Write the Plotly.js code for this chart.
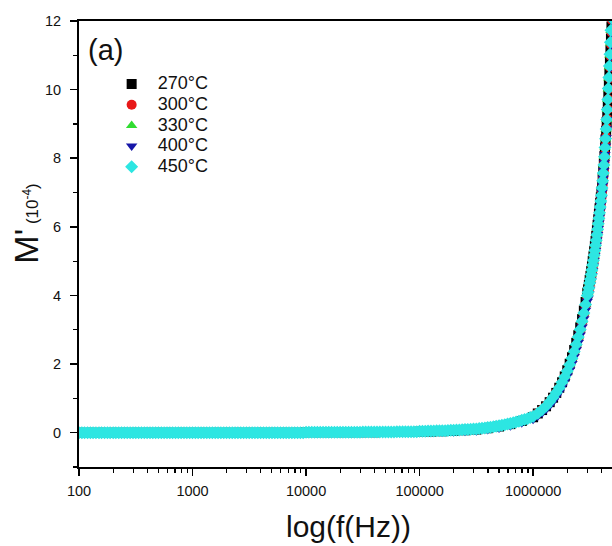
<!DOCTYPE html>
<html>
<head>
<meta charset="utf-8">
<script src="https://cdn.plot.ly/plotly-3.0.1.min.js"></script>
<style>
  html, body { margin: 0; padding: 0; background: #fff; overflow: hidden; }
  #chart { width: 612px; height: 546px; }
</style>
</head>
<body>
<div id="chart"></div>
<script>
// ---- data ----
const seriesNames = ['270°C', '300°C', '330°C', '400°C', '450°C'];
const seriesColors = ['#000000', '#e81818', '#30dc30', '#1616a8', '#2de6e2'];
const seriesSymbols = ['square', 'circle', 'triangle-up', 'triangle-down', 'diamond'];

// frequency grid of the 270-400 °C runs (Hz)
const freqHz = [
  100, 126, 158, 200, 251, 316, 398, 501, 631, 794,
  1000, 1259, 1585, 1995, 2512, 3162, 3981, 5012, 6310, 7943,
  10000, 12589, 15849, 19953, 25119, 31623, 39811, 50119, 63096, 79433,
  100000, 125893, 158489, 199526, 251189, 316228, 398107, 501187, 630957, 794328,
  1000000,
  1100000, 1200000, 1300000, 1400000, 1500000, 1600000, 1700000, 1800000, 1900000, 2000000,
  2100000, 2200000, 2300000, 2400000, 2500000, 2600000, 2700000, 2800000, 2900000, 3000000,
  3050000, 3100000, 3150000, 3200000, 3250000, 3300000, 3350000, 3400000, 3450000, 3500000,
  3550000, 3600000, 3650000, 3700000, 3750000, 3800000, 3850000, 3900000, 3950000, 4000000,
  4050000, 4100000, 4150000, 4200000, 4250000, 4300000, 4350000, 4400000, 4450000, 4500000,
  4550000, 4600000, 4650000, 4700000, 4750000, 4800000, 4850000, 4900000, 4950000, 5000000
];

// denser frequency grid of the 450 °C run (Hz)
const freqHz450 = [
  100, 106, 112, 119, 126, 133, 141, 150, 158, 168, 178, 188, 200, 211, 224, 237, 251, 266, 282, 299,
  316, 335, 355, 376, 398, 422, 447, 473, 501, 531, 562, 596, 631, 668, 708, 750, 794, 841, 891, 944,
  1000, 1059, 1122, 1189, 1259, 1334, 1413, 1496, 1585, 1679, 1778, 1884, 1995, 2113, 2239, 2371, 2512, 2661, 2818, 2985,
  3162, 3350, 3548, 3758, 3981, 4217, 4467, 4732, 5012, 5309, 5623, 5957, 6310, 6683, 7079, 7499, 7943, 8414, 8913, 9441,
  10000, 10593, 11220, 11885, 12589, 13335, 14125, 14962, 15849, 16788, 17783, 18836, 19953, 21135, 22387, 23714, 25119, 26607, 28184, 29854,
  31623, 33497, 35481, 37584, 39811, 42170, 44668, 47315, 50119, 53088, 56234, 59566, 63096, 66834, 70795, 74989, 79433, 84140, 89125, 94406,
  100000, 105930, 112200, 118850, 125890, 133350, 141250, 149620, 158490, 167880, 177830, 188360, 199530, 211350, 223870, 237140, 251190, 266070, 281840, 298540,
  316230, 334970, 354810, 375840, 398110, 421700, 446680, 473150, 501190, 530880, 562340, 595660, 630960, 668340, 707950, 749890, 794330, 841400, 891250, 944060,
  1000000,
  1100000, 1200000, 1300000, 1400000, 1500000, 1600000, 1700000, 1800000, 1900000, 2000000,
  2100000, 2200000, 2300000, 2400000, 2500000, 2600000, 2700000, 2800000, 2900000, 3000000,
  3050000, 3100000, 3150000, 3200000, 3250000, 3300000, 3350000, 3400000, 3450000, 3500000,
  3550000, 3600000, 3650000, 3700000, 3750000, 3800000, 3850000, 3900000, 3950000, 4000000,
  4050000, 4100000, 4150000, 4200000, 4250000, 4300000, 4350000, 4400000, 4450000, 4500000,
  4550000, 4600000, 4650000, 4700000, 4750000, 4800000, 4850000, 4900000, 4950000, 5000000
];

const m270 = [
  0, 0, 0, 0, 0, 0, 0, 0, 0, 0,
  0, 0, 0, 0, 0, 0, 0, 0, 0, 0,
  0.01, 0.01, 0.01, 0.01, 0.01, 0.01, 0.01, 0.02, 0.02, 0.02,
  0.03, 0.03, 0.04, 0.05, 0.07, 0.09, 0.13, 0.18, 0.25, 0.34,
  0.45,
  0.56, 0.66, 0.77, 0.89, 1.02, 1.16, 1.31, 1.47, 1.64, 1.82,
  2.01, 2.20, 2.41, 2.62, 2.84, 3.07, 3.31, 3.56, 3.81, 4.08,
  4.18, 4.31, 4.45, 4.57, 4.71, 4.85, 5.00, 5.14, 5.29, 5.44,
  5.59, 5.74, 5.90, 6.06, 6.22, 6.38, 6.54, 6.70, 6.86, 7.03,
  7.22, 7.42, 7.63, 7.85, 8.07, 8.31, 8.55, 8.80, 9.06, 9.33,
  9.60, 9.89, 10.19, 10.50, 10.82, 11.15, 11.49, 11.84, 12.20, 12.57
];

const m300 = [
  0, 0, 0, 0, 0, 0, 0, 0, 0, 0,
  0, 0, 0, 0, 0, 0, 0, 0, 0, 0,
  0.01, 0.01, 0.01, 0.01, 0.01, 0.02, 0.02, 0.02, 0.03, 0.03,
  0.04, 0.05, 0.06, 0.07, 0.09, 0.11, 0.15, 0.20, 0.27, 0.36,
  0.47,
  0.57, 0.67, 0.78, 0.89, 1.02, 1.16, 1.30, 1.46, 1.62, 1.79,
  1.96, 2.15, 2.35, 2.55, 2.76, 2.98, 3.21, 3.45, 3.70, 3.95,
  4.04, 4.17, 4.30, 4.42, 4.55, 4.68, 4.82, 4.96, 5.10, 5.24,
  5.39, 5.54, 5.69, 5.85, 6.01, 6.17, 6.33, 6.50, 6.67, 6.84,
  7.03, 7.23, 7.44, 7.66, 7.88, 8.12, 8.37, 8.62, 8.88, 9.15,
  9.43, 9.72, 10.02, 10.33, 10.65, 10.98, 11.32, 11.67, 12.03, 12.40
];

const m330 = [
  0, 0, 0, 0, 0, 0, 0, 0, 0, 0,
  0, 0, 0, 0, 0, 0, 0, 0, 0, 0,
  0.01, 0.01, 0.01, 0.01, 0.01, 0.02, 0.02, 0.02, 0.03, 0.03,
  0.04, 0.05, 0.06, 0.08, 0.10, 0.12, 0.16, 0.22, 0.29, 0.38,
  0.49,
  0.59, 0.69, 0.80, 0.92, 1.05, 1.19, 1.34, 1.50, 1.66, 1.83,
  2.01, 2.20, 2.40, 2.60, 2.82, 3.04, 3.27, 3.51, 3.76, 4.02,
  4.11, 4.24, 4.37, 4.49, 4.62, 4.76, 4.90, 5.04, 5.18, 5.33,
  5.48, 5.63, 5.79, 5.95, 6.11, 6.27, 6.43, 6.60, 6.77, 6.94,
  7.14, 7.35, 7.58, 7.81, 8.05, 8.31, 8.57, 8.85, 9.13, 9.42,
  9.71, 10.02, 10.34, 10.67, 11.01, 11.36, 11.72, 12.08, 12.45, 12.83
];

const m400 = [
  0, 0, 0, 0, 0, 0, 0, 0, 0, 0,
  0, 0, 0, 0, 0, 0, 0, 0, 0, 0,
  -0.01, -0.01, -0.01, -0.01, -0.01, 0, 0, 0, 0.01, 0.01,
  0.01, 0.01, 0.02, 0.03, 0.04, 0.06, 0.09, 0.14, 0.20, 0.29,
  0.39,
  0.49, 0.58, 0.68, 0.79, 0.91, 1.04, 1.18, 1.33, 1.49, 1.66,
  1.83, 2.02, 2.21, 2.42, 2.63, 2.85, 3.08, 3.32, 3.57, 3.83,
  3.92, 4.05, 4.18, 4.31, 4.44, 4.58, 4.72, 4.86, 5.01, 5.16,
  5.31, 5.46, 5.62, 5.78, 5.95, 6.12, 6.29, 6.46, 6.64, 6.82,
  7.01, 7.21, 7.42, 7.64, 7.87, 8.11, 8.35, 8.60, 8.86, 9.13,
  9.41, 9.70, 10.00, 10.31, 10.63, 10.96, 11.30, 11.65, 12.01, 12.38
];

const m450 = [
  0, 0, 0, 0, 0, 0, 0, 0, 0, 0, 0, 0, 0, 0, 0, 0, 0, 0, 0, 0,
  0, 0, 0, 0, 0, 0, 0, 0, 0, 0, 0, 0, 0, 0, 0, 0, 0, 0, 0, 0,
  0, 0, 0, 0, 0, 0, 0, 0, 0, 0, 0, 0, 0, 0, 0, 0, 0, 0, 0, 0,
  0, 0, 0, 0, 0, 0, 0, 0, 0, 0, 0, 0, 0, 0, 0, 0, 0, 0, 0, 0,
  0.01, 0.01, 0.01, 0.01, 0.01, 0.01, 0.01, 0.01, 0.01, 0.01, 0.01, 0.01, 0.01, 0.01, 0.01, 0.01, 0.01, 0.01, 0.01, 0.01,
  0.02, 0.02, 0.02, 0.02, 0.02, 0.02, 0.02, 0.02, 0.02, 0.02, 0.02, 0.02, 0.03, 0.03, 0.03, 0.03, 0.03, 0.03, 0.03, 0.03,
  0.04, 0.04, 0.045, 0.05, 0.05, 0.05, 0.055, 0.06, 0.06, 0.06, 0.065, 0.07, 0.07, 0.075, 0.08, 0.085, 0.09, 0.095, 0.10, 0.105,
  0.11, 0.12, 0.13, 0.14, 0.15, 0.16, 0.17, 0.185, 0.20, 0.215, 0.23, 0.25, 0.27, 0.29, 0.31, 0.335, 0.36, 0.385, 0.41, 0.44,
  0.47,
  0.57, 0.67, 0.78, 0.90, 1.03, 1.17, 1.31, 1.47, 1.63, 1.80,
  1.98, 2.17, 2.37, 2.57, 2.79, 3.01, 3.25, 3.49, 3.74, 4.00,
  4.09, 4.22, 4.36, 4.47, 4.61, 4.74, 4.89, 5.02, 5.17, 5.31,
  5.46, 5.61, 5.77, 5.93, 6.09, 6.25, 6.41, 6.58, 6.75, 6.92,
  7.13, 7.34, 7.57, 7.80, 8.04, 8.31, 8.57, 8.85, 9.13, 9.42,
  9.71, 10.03, 10.35, 10.69, 11.03, 11.38, 11.73, 12.09, 12.46, 12.84
];

const xTickVals = [100, 1000, 10000, 100000, 1000000];
const xTickText = ['100', '1000', '10000', '100000', '1000000'];
const yTickVals = [0, 2, 4, 6, 8, 10, 12];
const yTickText = ['0', '2', '4', '6', '8', '10', '12'];

// ---- chart ----
const seriesX = [freqHz, freqHz, freqHz, freqHz, freqHz450];
const seriesValues = [m270, m300, m330, m400, m450];
const FONT = 'Arial, "Liberation Sans", sans-serif';

const minorX = [];
for (let e = 2; e <= 6; e++) {
  for (let k = 2; k <= 9; k++) minorX.push(k * Math.pow(10, e));
}

const traces = seriesNames.map((name, i) => ({
  type: 'scatter',
  mode: 'markers',
  x: seriesX[i],
  y: seriesValues[i],
  name: '<span style="font-size:18px">' + name + '</span>',
  marker: {
    symbol: seriesSymbols[i],
    color: seriesColors[i],
    size: 10,
    line: { width: 0 }
  },
  hoverinfo: 'x+y+name'
}));

const layout = {
  width: 612,
  height: 546,
  margin: { l: 79, r: 0, t: 21, b: 79, pad: 0 },
  paper_bgcolor: '#ffffff',
  plot_bgcolor: '#ffffff',
  font: { family: FONT, color: '#111111' },
  showlegend: true,
  legend: {
    x: 0.05, xanchor: 'left',
    y: 0.893, yanchor: 'top',
    bgcolor: 'rgba(0,0,0,0)',
    borderwidth: 0,
    itemwidth: 42,
    font: { family: FONT, size: 13.6, color: '#111111' },
    traceorder: 'normal'
  },
  xaxis: {
    type: 'log',
    range: [2, 6.695],
    showline: true,
    linecolor: '#000000',
    linewidth: 2,
    mirror: true,
    showgrid: false,
    zeroline: false,
    ticks: 'outside',
    ticklen: 7,
    tickwidth: 1.5,
    tickcolor: '#000000',
    tickmode: 'array',
    tickvals: xTickVals,
    ticktext: xTickText,
    tickfont: { family: FONT, size: 14.5, color: '#111111' },
    ticklabelstandoff: 3,
    minor: {
      tickmode: 'array',
      tickvals: minorX,
      ticks: 'outside',
      ticklen: 4,
      tickwidth: 1.2,
      tickcolor: '#000000',
      showgrid: false
    }
  },
  yaxis: {
    range: [-1, 12],
    showline: true,
    linecolor: '#000000',
    linewidth: 2,
    mirror: false,
    showgrid: false,
    zeroline: false,
    ticks: 'outside',
    ticklen: 7,
    tickwidth: 1.5,
    tickcolor: '#000000',
    tickmode: 'array',
    tickvals: yTickVals,
    ticktext: yTickText,
    tickfont: { family: FONT, size: 14.5, color: '#111111' },
    ticklabelstandoff: 6,
    minor: {
      tickmode: 'linear',
      tick0: -1,
      dtick: 1,
      ticks: 'outside',
      ticklen: 4,
      tickwidth: 1.2,
      tickcolor: '#000000',
      showgrid: false
    }
  },
  annotations: [
    {
      text: '(a)',
      xref: 'paper', yref: 'paper',
      x: 0.0497, y: 0.934,
      xanchor: 'center', yanchor: 'middle',
      showarrow: false,
      font: { family: FONT, size: 29, color: '#111111' }
    },
    {
      text: 'log(f(Hz))',
      xref: 'paper', yref: 'paper',
      x: 0.5047, y: -0.1345,
      xanchor: 'center', yanchor: 'middle',
      showarrow: false,
      font: { family: FONT, size: 30, color: '#111111' }
    },
    {
      text: "M'<span style=\"font-size:17px\"> (10<sup>-4</sup>)</span>",
      xref: 'paper', yref: 'paper',
      x: -0.1, y: 0.545,
      xanchor: 'center', yanchor: 'middle',
      textangle: -90,
      showarrow: false,
      font: { family: FONT, size: 34, color: '#111111' }
    }
  ]
};

Plotly.newPlot('chart', traces, layout, { displayModeBar: false, staticPlot: true });
</script>
</body>
</html>
